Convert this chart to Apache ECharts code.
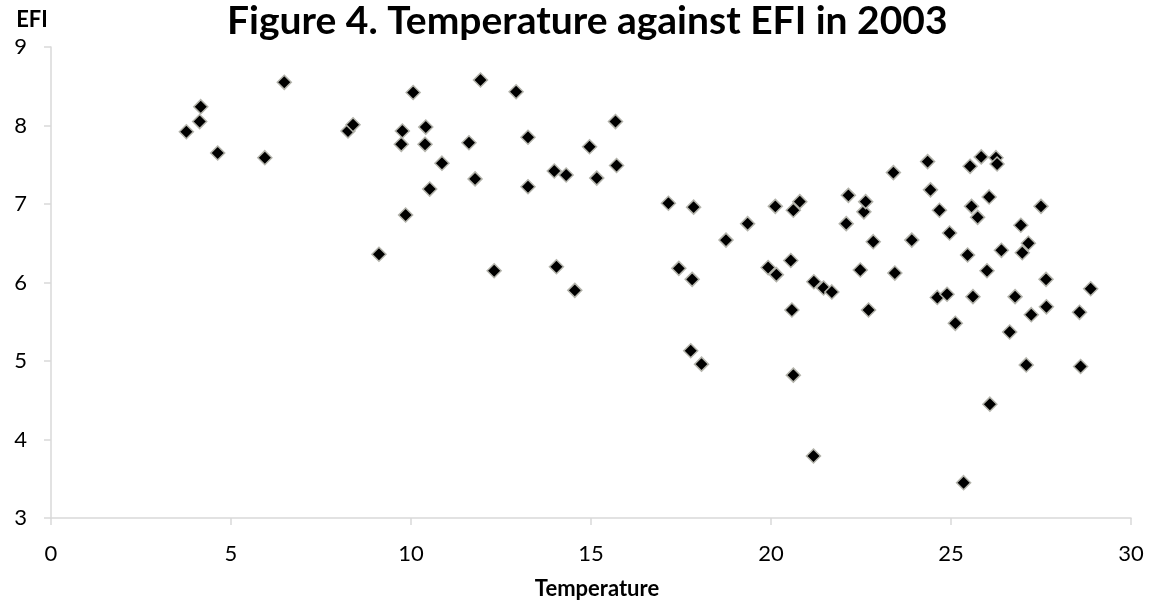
<!DOCTYPE html>
<html>
<head>
<meta charset="utf-8">
<script src="https://cdn.jsdelivr.net/npm/echarts@6/dist/echarts.min.js"></script>
<style>
  html, body { margin: 0; padding: 0; background: #fff; }
  #chart { width: 1153px; height: 607px; }
</style>
</head>
<body>
<div id="chart"></div>
<script>
// temperature (x) and EFI (y)
const temperature = [
  3.76, 4.13, 4.16, 4.63, 5.94, 6.48, 8.25, 8.39, 9.11, 9.73,
  9.76, 9.85, 10.06, 10.39, 10.41, 10.52, 10.86, 11.61, 11.78, 11.93,
  12.31, 12.92, 13.25, 13.25, 13.98, 14.04, 14.31, 14.55, 14.96, 15.16,
  15.68, 15.71, 17.15, 17.44, 17.77, 17.81, 17.85, 18.07, 18.75, 19.35,
  19.92, 20.12, 20.15, 20.55, 20.58, 20.62, 20.62, 20.80, 21.18, 21.19,
  21.46, 21.69, 22.09, 22.15, 22.48, 22.58, 22.63, 22.71, 22.84, 23.40,
  23.44, 23.91, 24.35, 24.43, 24.62, 24.68, 24.89, 24.96, 25.12, 25.35,
  25.46, 25.53, 25.57, 25.61, 25.74, 25.84, 26.00, 26.06, 26.08, 26.25,
  26.28, 26.40, 26.63, 26.78, 26.94, 26.98, 27.09, 27.15, 27.23, 27.50,
  27.64, 27.65, 28.57, 28.60, 28.88
]
const efi = [
  7.92, 8.05, 8.24, 7.65, 7.59, 8.55, 7.93, 8.01, 6.36, 7.76,
  7.93, 6.86, 8.42, 7.76, 7.98, 7.19, 7.52, 7.78, 7.32, 8.58,
  6.15, 8.43, 7.85, 7.22, 7.42, 6.20, 7.37, 5.90, 7.73, 7.33,
  8.05, 7.49, 7.01, 6.18, 5.13, 6.04, 6.96, 4.96, 6.54, 6.75,
  6.19, 6.97, 6.10, 6.28, 5.65, 4.82, 6.92, 7.03, 3.79, 6.01,
  5.93, 5.88, 6.75, 7.11, 6.16, 6.90, 7.03, 5.65, 6.52, 7.40,
  6.12, 6.54, 7.54, 7.18, 5.81, 6.92, 5.85, 6.63, 5.48, 3.45,
  6.35, 7.48, 6.97, 5.82, 6.83, 7.60, 6.15, 7.09, 4.45, 7.59,
  7.51, 6.41, 5.37, 5.82, 6.73, 6.38, 4.95, 6.50, 5.59, 6.97,
  6.04, 5.69, 5.62, 4.93, 5.92
]

const FONT = 'Lato, "Open Sans", sans-serif'
const AXIS_GREY = '#d9d9d9'

const chart = echarts.init(document.getElementById('chart'))

chart.setOption({
  animation: false,
  title: {
    text: 'Figure 4. Temperature against EFI in 2003',
    left: 222,
    top: -3,
    textStyle: { color: '#000', fontSize: 39, fontWeight: 'bold', fontFamily: FONT }
  },
  grid: { left: 51, right: 22, top: 47, bottom: 89 },
  xAxis: {
    type: 'value',
    min: 0,
    max: 30,
    interval: 5,
    name: 'Temperature',
    nameLocation: 'middle',
    nameGap: 60,
    nameTextStyle: { color: '#000', fontSize: 22, fontWeight: 'bold', fontFamily: FONT, padding: [0, 0, 0, 12] },
    axisLine: { lineStyle: { color: AXIS_GREY, width: 1.5 } },
    axisTick: { show: true, length: 7, lineStyle: { color: AXIS_GREY, width: 1.5 } },
    axisLabel: { color: '#000', fontSize: 22, fontFamily: FONT, margin: 25 },
    splitLine: { show: false }
  },
  yAxis: {
    type: 'value',
    min: 3,
    max: 9,
    interval: 1,
    name: 'EFI',
    nameLocation: 'end',
    nameGap: 16,
    nameTextStyle: { color: '#000', fontSize: 22, fontWeight: 'bold', fontFamily: FONT, padding: [0, 38, 0, 0] },
    axisLine: { show: true, lineStyle: { color: AXIS_GREY, width: 1.5 } },
    axisTick: { show: true, length: 7, lineStyle: { color: AXIS_GREY, width: 1.5 } },
    axisLabel: { color: '#000', fontSize: 22, fontFamily: FONT, margin: 24 },
    splitLine: { show: false }
  },
  series: [{
    type: 'scatter',
    symbol: 'diamond',
    symbolSize: 14,
    itemStyle: { color: '#000', borderColor: '#b4b4ac', borderWidth: 1.5, opacity: 1 },
    data: temperature.map((t, i) => [t, efi[i]])
  }]
})
</script>
</body>
</html>
